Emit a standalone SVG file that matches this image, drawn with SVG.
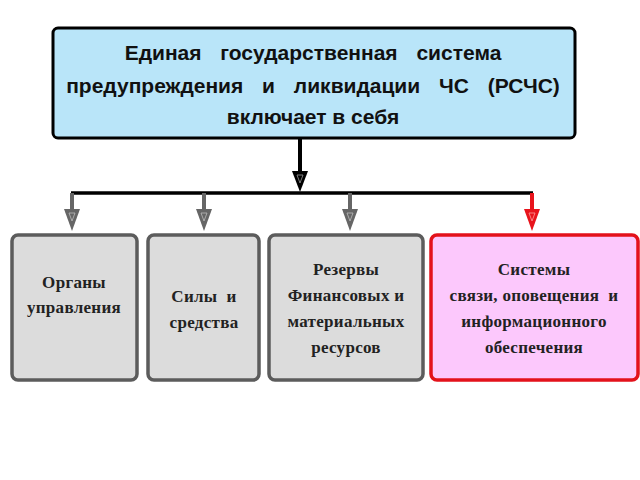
<svg xmlns="http://www.w3.org/2000/svg" width="640" height="480" viewBox="0 0 640 480">
<style>
.top{fill:#b9e5f9;stroke:#000;stroke-width:3}
.gbox{fill:#dcdcdc;stroke:#5c5c5c;stroke-width:3.5}
.pbox{fill:#fcc8fc;stroke:#e3121b;stroke-width:3.5}
.tt{font-family:"Liberation Sans",Arial,sans-serif;font-weight:bold;font-size:21px;fill:#111;text-anchor:middle;word-spacing:13px}
.bt{font-family:"Liberation Serif","Times New Roman",serif;font-weight:bold;font-size:17px;letter-spacing:0.3px;fill:#222;text-anchor:middle}
.blk{stroke:#000;stroke-width:4;fill:none}
.gry{stroke:#666;stroke-width:4;fill:none}
.red{stroke:#e8141c;stroke-width:4;fill:none}
.inner{fill:none;stroke-width:0.8}
</style>
<rect width="640" height="480" fill="#fff"/>
<g id="connectors">
<line class="blk" x1="300" y1="138" x2="300" y2="172"/>
<polygon points="292,171 308,171 300,192" fill="#000"/>
<polygon class="inner" points="297,175 303,175 300,183" stroke="#999"/>
<line x1="71" y1="193" x2="533" y2="193" stroke="#000" stroke-width="3.5"/>
<line class="gry" x1="72" y1="193" x2="72" y2="210"/>
<polygon points="64,209 80,209 72,231" fill="#666"/>
<polygon class="inner" points="69,213 75,213 72,221" stroke="#bbb"/>
<line class="gry" x1="204" y1="193" x2="204" y2="210"/>
<polygon points="196,209 212,209 204,231" fill="#666"/>
<polygon class="inner" points="201,213 207,213 204,221" stroke="#bbb"/>
<line class="gry" x1="350" y1="193" x2="350" y2="210"/>
<polygon points="342,209 358,209 350,231" fill="#666"/>
<polygon class="inner" points="347,213 353,213 350,221" stroke="#bbb"/>
<line class="red" x1="532" y1="193" x2="532" y2="210"/>
<polygon points="524,209 540,209 532,231" fill="#e8141c"/>
<polygon class="inner" points="529,213 535,213 532,221" stroke="#f99"/>
</g>
<g id="top">
<rect class="top" x="53" y="28" width="522" height="110" rx="5"/>
<text class="tt" x="313" y="60">Единая государственная система</text>
<text class="tt" x="313" y="93">предупреждения и ликвидации ЧС (РСЧС)</text>
<text class="tt" x="313" y="124" style="word-spacing:0px">включает в себя</text>
</g>
<g id="organy">
<rect class="gbox" x="12" y="235" width="125" height="145" rx="6"/>
<text class="bt" x="74" y="288">Органы</text>
<text class="bt" x="74" y="313">управления</text>
</g>
<g id="sily">
<rect class="gbox" x="148" y="235" width="111" height="145" rx="6"/>
<text class="bt" x="204" y="302" xml:space="preserve">Силы  и</text>
<text class="bt" x="204" y="328">средства</text>
</g>
<g id="rezervy">
<rect class="gbox" x="269" y="235" width="154" height="145" rx="6"/>
<text class="bt" x="346" y="275">Резервы</text>
<text class="bt" x="346" y="301">Финансовых и</text>
<text class="bt" x="346" y="327">материальных</text>
<text class="bt" x="346" y="353">ресурсов</text>
</g>
<g id="sistemy">
<rect class="pbox" x="431" y="235" width="207" height="145" rx="6"/>
<text class="bt" x="534" y="275">Системы</text>
<text class="bt" x="534" y="301" xml:space="preserve">связи, оповещения  и</text>
<text class="bt" x="534" y="327">информационного</text>
<text class="bt" x="534" y="353">обеспечения</text>
</g>
</svg>
